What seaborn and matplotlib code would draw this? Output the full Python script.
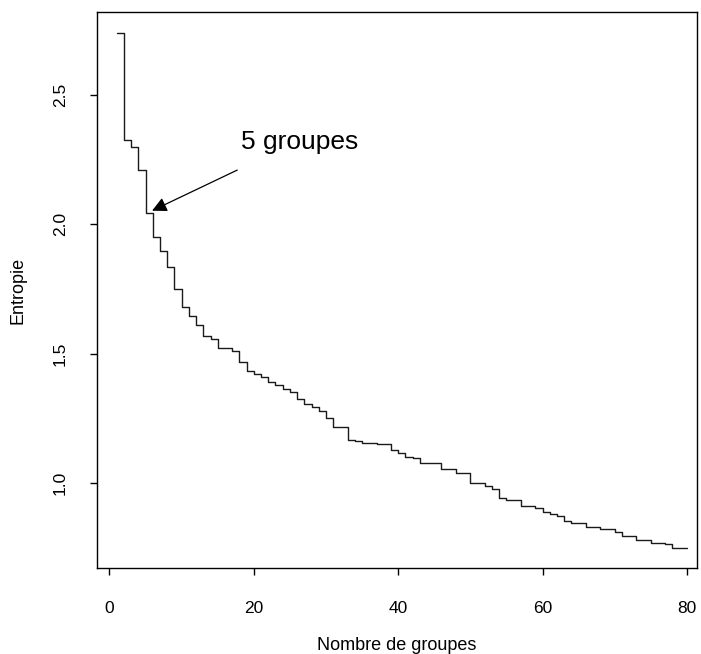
import numpy as np
import pandas as pd
import seaborn as sns
import matplotlib
matplotlib.use("Agg")
import matplotlib.pyplot as plt

# entropy per number of groups
groupes = list(range(1, 81))
entropie = [2.741, 2.326, 2.300, 2.210, 2.043, 1.952, 1.898, 1.836, 1.749, 1.682,
            1.647, 1.611, 1.570, 1.557, 1.523, 1.523, 1.512, 1.469, 1.434, 1.422,
            1.409, 1.392, 1.379, 1.364, 1.353, 1.325, 1.304, 1.293, 1.280, 1.250,
            1.218, 1.218, 1.166, 1.162, 1.156, 1.156, 1.151, 1.151, 1.128, 1.115,
            1.101, 1.096, 1.079, 1.079, 1.079, 1.055, 1.055, 1.040, 1.040, 0.999,
            0.999, 0.989, 0.977, 0.943, 0.934, 0.934, 0.912, 0.912, 0.902, 0.889,
            0.880, 0.873, 0.855, 0.844, 0.844, 0.829, 0.829, 0.824, 0.824, 0.812,
            0.797, 0.797, 0.780, 0.780, 0.767, 0.767, 0.763, 0.750, 0.750, 0.750]
xticks = [0, 20, 40, 60, 80]
yticks = [1.0, 1.5, 2.0, 2.5]
note = "5 groupes"
note_k = 5

df = pd.DataFrame({"groupes": groupes, "entropie": entropie})

sns.set_theme(style="ticks")
plt.rcParams["font.family"] = ["Liberation Sans", "DejaVu Sans"]
plt.rcParams["text.color"] = "black"
plt.rcParams["axes.labelcolor"] = "black"

fig = plt.figure(figsize=(7.01, 6.54), dpi=100)
ax = fig.add_axes([97 / 701, 1 - 568 / 654, 600 / 701, 556 / 654])

sns.lineplot(data=df, x="groupes", y="entropie", drawstyle="steps-post",
             color="#1a1a1a", lw=1.0, ax=ax)

ax.set_xlim(-1.73, 81.4)
ax.set_ylim(0.672, 2.821)
ax.set_xticks(xticks)
ax.set_yticks(yticks)
ax.set_xticklabels([str(t) for t in xticks])
ax.set_yticklabels([f"{t:.1f}" for t in yticks], rotation=90, va="center")

for s in ax.spines.values():
    s.set_visible(True)
    s.set_color("black")
    s.set_linewidth(1.0)
ax.tick_params(axis="both", direction="out", length=5, width=1.0, color="black",
               labelsize=12.5, labelcolor="black")
ax.tick_params(axis="x", pad=19)
ax.tick_params(axis="y", pad=16)

ax.set_xlabel("Nombre de groupes", fontsize=13, labelpad=15)
ax.set_ylabel("Entropie", fontsize=13, labelpad=19)

y5 = entropie[groupes.index(note_k)]
ax.annotate("", xy=(note_k + 0.9, y5 + 0.01), xytext=(17.7, 2.21),
            arrowprops=dict(arrowstyle="-|>", color="black", lw=0.9,
                            mutation_scale=22, shrinkA=0, shrinkB=0))
ax.text(18.2, 2.318, note, fontsize=19, ha="left", va="center")

fig.savefig("out.png", dpi=100)
